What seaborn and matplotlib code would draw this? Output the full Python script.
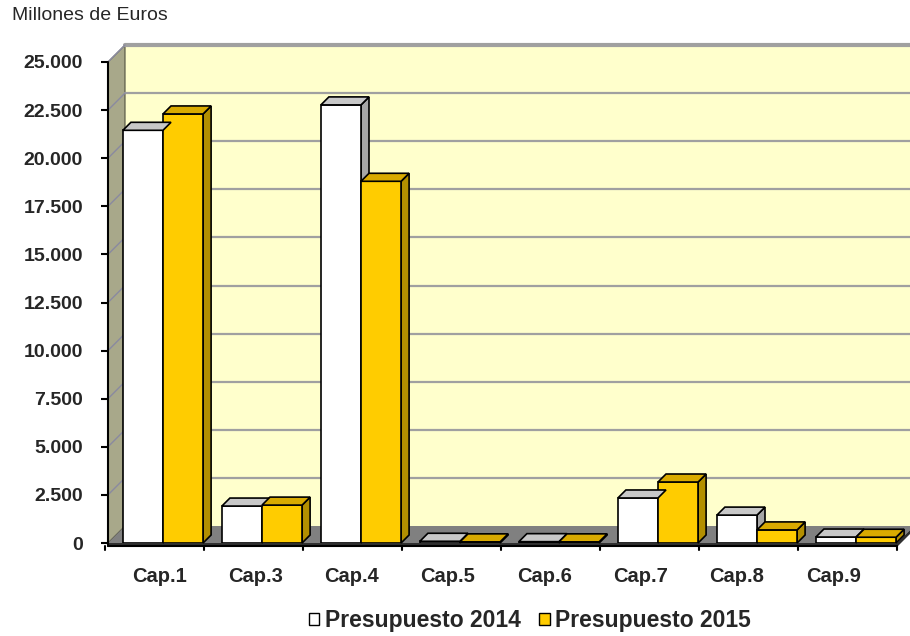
import numpy as np
import pandas as pd
import matplotlib
matplotlib.use("Agg")
import matplotlib.pyplot as plt
from matplotlib.patches import Polygon, Patch
from matplotlib.transforms import IdentityTransform
import seaborn as sns

# Datos (millones de euros)
capitulos = ["Cap.1", "Cap.3", "Cap.4", "Cap.5", "Cap.6", "Cap.7", "Cap.8", "Cap.9"]
pres_2014 = [21450, 1920, 22770, 90, 70, 2340, 1450, 310]
pres_2015 = [22300, 1970, 18800, 60, 60, 3170, 680, 300]
series = ["Presupuesto 2014", "Presupuesto 2015"]
yticks = np.arange(0, 25001, 2500)

df = pd.DataFrame({
    "cap": capitulos * 2,
    "valor": pres_2014 + pres_2015,
    "serie": [series[0]] * len(capitulos) + [series[1]] * len(capitulos),
})

front_col = {series[0]: "#FFFFFF", series[1]: "#FFCC00"}
top_col = {series[0]: "#C8C8C8", series[1]: "#D9AA00"}
side_col = {series[0]: "#A6A6A6", series[1]: "#B38F00"}

sns.set_style("white")
plt.rcParams["font.family"] = ["Liberation Sans", "DejaVu Sans"]

W, H = 910, 636
fig = plt.figure(figsize=(W / 100, H / 100), dpi=100)
# plano frontal del grafico 3D en pixeles
L, R, B, T = 108, 897, 543, 62
ax = fig.add_axes([L / W, 1 - B / H, (R - L) / W, (B - T) / H])
ax.set_facecolor("none")

sns.barplot(data=df, x="cap", y="valor", hue="serie", palette=front_col,
            width=0.81, edgecolor="black", linewidth=1.2, saturation=1,
            legend=False, ax=ax, zorder=3)

# escala x: centro Cap.1 en 163 px, 99 px por categoria
ax.set_xlim((L - 163) / 99, (R - 163) / 99)
ax.set_ylim(0, 25000)
ax.set_yticks(yticks)
ax.set_yticklabels([f"{v:,.0f}".replace(",", ".") for v in yticks],
                   fontsize=14, fontweight="bold")
# las etiquetas de categoria van en el plano frontal (algo mas juntas que las barras)
ax.set_xticks([0.973 * k - 0.04 for k in range(len(capitulos))])
ax.set_xticklabels(capitulos, fontsize=14.5, fontweight="bold")
ax.tick_params(axis="x", length=0, pad=17)
ax.tick_params(axis="y", length=5, width=1.5, color="black", direction="out", pad=13, left=True)
ax.set_xlabel("")
ax.set_ylabel("")
for s in ax.spines.values():
    s.set_visible(False)

fig.canvas.draw()
to_px = ax.transData.transform
idt = IdentityTransform()
DX, DY = 17, 17  # profundidad paredes
bx, by = 8, 8    # profundidad barras


def poly(pts, fc, ec="none", lw=0, z=1):
    ax.add_patch(Polygon(pts, closed=True, facecolor=fc, edgecolor=ec, linewidth=lw,
                         transform=idt, clip_on=False, zorder=z))


def line(xs, ys, c, lw, z):
    ax.add_line(plt.Line2D(xs, ys, color=c, lw=lw, transform=idt, clip_on=False, zorder=z))


# pixeles de display (y hacia arriba)
xl, xr = L, R
y0 = H - B
ytop = H - T
# pared del fondo
poly([(xl + DX, y0 + DY), (W + 2, y0 + DY), (W + 2, ytop + DY), (xl + DX, ytop + DY)], "#FFFFCC", z=0)
line([xl + DX, W], [ytop + DY, ytop + DY], "#A0A0A0", 3, 0.5)
# pared izquierda
poly([(xl, y0), (xl, ytop), (xl + DX, ytop + DY), (xl + DX, y0 + DY)], "#A8A88A",
     ec="#505040", lw=0.8, z=0.4)
# lineas de division
for v in yticks[1:]:
    yy = to_px((0, v))[1]
    line([xl + DX, W], [yy + DY, yy + DY], "#A0A0A0", 1.6, 0.5)
    line([xl, xl + DX], [yy, yy + DY], "#8A8AA0", 1, 0.5)
# suelo
poly([(xl, y0), (xr, y0), (xr + DX, y0 + DY), (xl + DX, y0 + DY)], "#808080", z=0.6)
poly([(xl, y0 - 4), (xr, y0 - 4), (xr + DX, y0 + DY - 4), (xr + DX, y0 + DY), (xr, y0), (xl, y0)],
     "#303030", z=0.6)
line([xl, xl], [y0 - 3, ytop], "black", 1.5, 0.7)
line([xl, xr], [y0 - 3, y0 - 3], "black", 1.5, 0.7)
for k in range(len(capitulos) + 1):
    xt = to_px((k - 0.59, 0))[0]
    line([xt, xt], [y0 - 3, y0 - 7], "black", 1.5, 0.7)

# caras superior y lateral de cada barra
n = len(capitulos)
for i, bar in enumerate(ax.patches[:2 * n]):
    serie = series[i // n]
    x0 = bar.get_x()
    x1 = x0 + bar.get_width()
    h = bar.get_height()
    (px0, py0), (px1, py1) = to_px((x0, 0)), to_px((x1, h))
    poly([(px0, py1), (px1, py1), (px1 + bx, py1 + by), (px0 + bx, py1 + by)],
         top_col[serie], ec="black", lw=1.2, z=3)
    poly([(px1, py0), (px1, py1), (px1 + bx, py1 + by), (px1 + bx, py0 + by)],
         side_col[serie], ec="black", lw=1.2, z=2.9)

fig.text(12 / W, 1 - 16 / H, "Millones de Euros", fontsize=14, va="center", ha="left")

handles = [Patch(facecolor=front_col[s], edgecolor="black", linewidth=1) for s in series]
fig.legend(handles, series, loc="center", bbox_to_anchor=(530 / W, 1 - 621 / H), ncol=2,
           frameon=False, prop={"weight": "bold", "size": 16.5}, handlelength=0.45,
           handleheight=0.45, handletextpad=0.25, columnspacing=0.8)

fig.savefig("out.png", dpi=100)
